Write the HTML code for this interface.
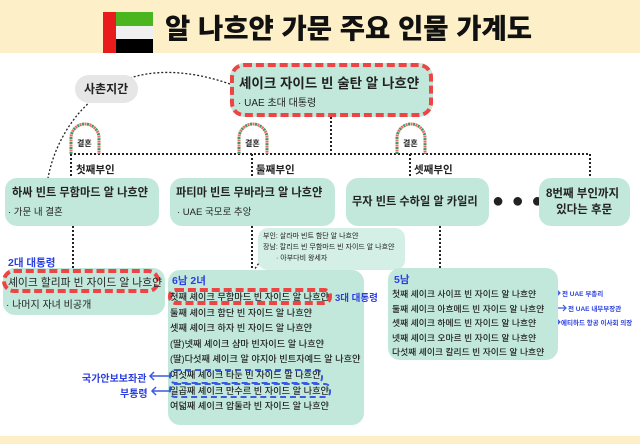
<!DOCTYPE html>
<html><head><meta charset="utf-8"><style>
*{margin:0;padding:0;box-sizing:border-box}
body{width:640px;height:444px;position:relative;overflow:hidden;background:#fff;font-family:"Liberation Sans","Noto Sans CJK KR",sans-serif;color:#222}
.a{position:absolute}
.box{position:absolute;background:#c2e8dc;border-radius:12px}
.t{position:absolute;white-space:nowrap;font-weight:bold}
.bl{color:#2b3fe0;font-weight:bold}
</style></head><body>
<div class="a" style="left:0;top:0;width:640px;height:53px;background:#fdf0c8"></div>
<div class="a" style="left:0;top:436px;width:640px;height:8px;background:#fdf0c8"></div>
<div class="a" style="left:103px;top:12px;width:13px;height:41px;background:#e81c1c"></div>
<div class="a" style="left:116px;top:12px;width:37px;height:14px;background:#4bb520"></div>
<div class="a" style="left:116px;top:26px;width:37px;height:13px;background:#f0f0f0"></div>
<div class="a" style="left:116px;top:39px;width:37px;height:14px;background:#000"></div>
<div class="t" style="left:165px;top:12px;font-size:27.5px;line-height:34px;color:#111;font-weight:900">알 나흐얀 가문 주요 인물 가계도</div>

<svg class="a" style="left:0;top:0" width="640" height="444">
<g fill="none" stroke="#222" stroke-width="2" stroke-dasharray="2 2">
<path d="M230 84 C190 70 150 68 120 82 C80 100 55 140 48 178" stroke-width="1.3"/>
<path d="M331 117 V154 M70 154 H590 M71 154 V178 M252 154 V178 M410 154 V178 M590 154 V178"/>
<path d="M73 226 V268" />
<path d="M252 226 V285 M440 226 V268"/>
<path d="M252 292 C250 275 255 262 268 258" stroke-width="1.3"/>
</g>
<path d="M264 256 l6 0 l-3 5z" fill="#222"/>
<g fill="none" stroke-width="3" stroke-dasharray="2 3">
<path d="M71 154 V138 a14 14 0 0 1 28 0 V154" stroke="#3a9a6a"/>
<path d="M71 154 V138 a14 14 0 0 1 28 0 V154" stroke="#ef6a5a" stroke-dashoffset="2.5"/>
<path d="M239 154 V138 a14 14 0 0 1 28 0 V154" stroke="#3a9a6a"/>
<path d="M239 154 V138 a14 14 0 0 1 28 0 V154" stroke="#ef6a5a" stroke-dashoffset="2.5"/>
<path d="M397 154 V138 a14 14 0 0 1 28 0 V154" stroke="#3a9a6a"/>
<path d="M397 154 V138 a14 14 0 0 1 28 0 V154" stroke="#ef6a5a" stroke-dashoffset="2.5"/>
</g>
</svg>

<div class="a" style="left:75px;top:75px;width:63px;height:28px;background:#e6e6e6;border-radius:14px"></div>
<div class="t" style="left:84px;top:80px;font-size:12px">사촌지간</div>
<div class="t" style="left:77px;top:138px;font-size:8px">결혼</div>
<div class="t" style="left:245px;top:138px;font-size:8px">결혼</div>
<div class="t" style="left:403px;top:138px;font-size:8px">결혼</div>

<div class="box" style="left:230px;top:63px;width:203px;height:54px;border:4px dashed #ee4444;border-radius:14px"></div>
<div class="t" style="left:239px;top:72px;font-size:13.5px">셰이크 자이드 빈 술탄 알 나흐얀</div>
<div class="t" style="left:238px;top:94px;font-size:10px;font-weight:normal">· UAE 초대 대통령</div>

<div class="t" style="left:76px;top:162px;font-size:10.5px">첫째부인</div>
<div class="t" style="left:256px;top:162px;font-size:10.5px">둘째부인</div>
<div class="t" style="left:414px;top:162px;font-size:10.5px">셋째부인</div>

<div class="box" style="left:5px;top:178px;width:154px;height:48px"></div>
<div class="t" style="left:12px;top:184px;font-size:11.2px">하싸 빈트 무함마드 알 나흐얀</div>
<div class="t" style="left:8px;top:204px;font-size:9.5px;font-weight:normal">· 가문 내 결혼</div>
<div class="box" style="left:170px;top:178px;width:165px;height:48px"></div>
<div class="t" style="left:176px;top:184px;font-size:11.2px">파티마 빈트 무바라크 알 나흐얀</div>
<div class="t" style="left:177px;top:204px;font-size:9.5px;font-weight:normal">· UAE 국모로 추앙</div>
<div class="box" style="left:346px;top:178px;width:143px;height:48px"></div>
<div class="t" style="left:352px;top:193px;font-size:11.2px">무자 빈트 수하일 알 카일리</div>
<div class="t" style="left:492px;top:190px;font-size:20px;letter-spacing:1px;line-height:22px">● ● ●</div>
<div class="box" style="left:539px;top:178px;width:91px;height:48px"></div>
<div class="t" style="left:546px;top:186px;font-size:11.5px;text-align:center;line-height:16px">8번째 부인까지<br>&nbsp;있다는 후문</div>

<div class="t bl" style="left:8px;top:255px;font-size:10.5px">2대 대통령</div>
<div class="box" style="left:3px;top:268px;width:162px;height:47px"></div>
<div class="a" style="left:2px;top:269px;width:158px;height:24px;border:4px dashed #ee4444;border-radius:12px"></div>
<div class="t" style="left:8px;top:274px;font-size:10.8px;font-weight:normal">셰이크 할리파 빈 자이드 알 나흐얀</div>
<div class="t" style="left:6px;top:296px;font-size:10px;font-weight:normal">· 나머지 자녀 비공개</div>

<div class="box" style="left:258px;top:228px;width:147px;height:42px;background:#d3efe6;border-radius:10px"></div>
<div class="t" style="left:263px;top:231px;font-size:7px;font-weight:normal">부인: 살라마 빈트 함단 알 나흐얀</div>
<div class="t" style="left:263px;top:242px;font-size:7px;font-weight:normal">장남: 칼리드 빈 무함마드 빈 자이드 알 나흐얀</div>
<div class="t" style="left:276px;top:253px;font-size:7px;font-weight:normal">· 아부다비 왕세자</div>

<div class="box" style="left:168px;top:270px;width:196px;height:155px"></div>
<div class="t bl" style="left:172px;top:273px;font-size:10.5px">6남 2녀</div>
<div class="a" style="left:168px;top:288px;width:164px;height:17px;border:4px dashed #ee4444;border-radius:8px"></div>
<div class="t bl" style="left:335px;top:290px;font-size:9.5px">3대 대통령</div>
<div class="a" style="left:169px;top:369px;width:154px;height:15px;border:2px dashed #3a5ae0;border-radius:6px"></div>
<div class="a" style="left:169px;top:383px;width:162px;height:15px;border:2px dashed #3a5ae0;border-radius:6px"></div>
<div class="a" style="left:170px;top:290px;font-size:9.2px;line-height:15.6px;white-space:nowrap;font-weight:500">
첫째 셰이크 무함마드 빈 자이드 알 나흐얀<br>둘째 셰이크 함단 빈 자이드 알 나흐얀<br>셋째 셰이크 하자 빈 자이드 알 나흐얀<br>(딸)넷째 셰이크 샴마 빈자이드 알 나흐얀<br>(딸)다섯째 셰이크 알 야지아 빈트자예드 알 나흐얀<br>여섯째 셰이크 타눈 빈 자이드 알 나흐얀<br>일곱째 셰이크 만수르 빈 자이드 알 나흐얀<br>여덟째 셰이크 압둘라 빈 자이드 알 나흐얀</div>
<div class="t bl" style="left:82px;top:370px;font-size:10px">국가안보보좌관</div>
<div class="t bl" style="left:120px;top:385px;font-size:10px">부통령</div>
<svg class="a" style="left:0;top:0" width="640" height="444" fill="none" stroke="#3a5ae0" stroke-width="1.5">
<path d="M170 376 H150 M154 372 l-4 4 4 4 M170 391 H152 M156 387 l-4 4 4 4"/>
<path d="M545 293 H560 M557 290 l3 3 -3 3 M548 308 H566 M563 305 l3 3 -3 3 M540 322 H560 M557 319 l3 3 -3 3" stroke-width="1.2"/>
</svg>

<div class="box" style="left:388px;top:268px;width:170px;height:92px"></div>
<div class="t bl" style="left:394px;top:272px;font-size:10.5px">5남</div>
<div class="a" style="left:392px;top:287px;font-size:8.8px;line-height:14.6px;white-space:nowrap;font-weight:500">
첫째 셰이크 사이프 빈 자이드 알 나흐얀<br>둘째 셰이크 아흐메드 빈 자이드 알 나흐얀<br>셋째 셰이크 하메드 빈 자이드 알 나흐얀<br>넷째 셰이크 오마르 빈 자이드 알 나흐얀<br>다섯째 셰이크 칼리드 빈 자이드 알 나흐얀</div>
<div class="t bl" style="left:562px;top:288px;font-size:6.5px">전 UAE 부총리</div>
<div class="t bl" style="left:568px;top:303px;font-size:6.5px">전 UAE 내무부장관</div>
<div class="t bl" style="left:561px;top:317px;font-size:6.5px">에티하드 항공 이사회 의장</div>
</body></html>
